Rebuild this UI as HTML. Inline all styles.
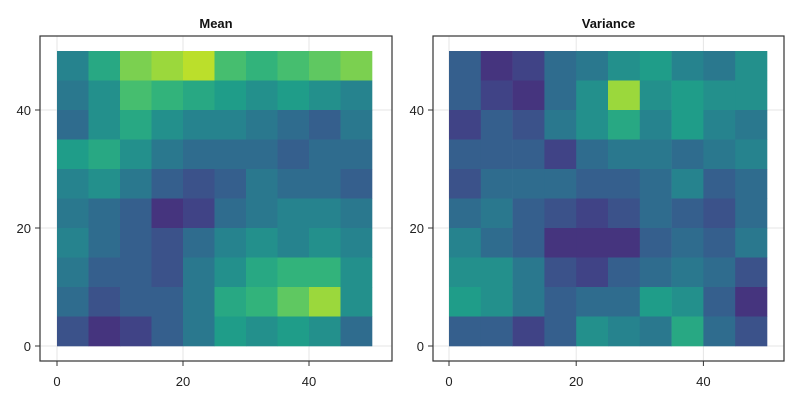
<!DOCTYPE html>
<html><head><meta charset="utf-8"><style>
html,body{margin:0;padding:0;background:#fff}
text{font-family:"Liberation Sans",sans-serif}
</style></head><body>
<svg id="chart" width="800" height="400" xmlns="http://www.w3.org/2000/svg"></svg>
<script>
// 10x10 coarse grid, rows from top (y 45-50) to bottom (y 0-5), values normalized 0..1
const meanValues = [
[0.45,0.6,0.8,0.85,0.9,0.7,0.65,0.7,0.75,0.8],
[0.4,0.5,0.7,0.65,0.6,0.55,0.5,0.55,0.5,0.45],
[0.35,0.5,0.6,0.5,0.45,0.45,0.4,0.35,0.3,0.4],
[0.55,0.6,0.5,0.4,0.35,0.35,0.35,0.3,0.35,0.35],
[0.45,0.5,0.4,0.3,0.25,0.3,0.4,0.35,0.35,0.3],
[0.4,0.35,0.3,0.15,0.2,0.35,0.4,0.45,0.45,0.4],
[0.45,0.35,0.3,0.25,0.35,0.45,0.5,0.45,0.5,0.45],
[0.4,0.3,0.3,0.25,0.4,0.5,0.6,0.65,0.65,0.5],
[0.35,0.25,0.3,0.3,0.4,0.6,0.65,0.75,0.85,0.5],
[0.25,0.15,0.2,0.3,0.4,0.55,0.5,0.55,0.5,0.35]];
const varianceValues = [
[0.3,0.15,0.2,0.35,0.4,0.5,0.55,0.45,0.4,0.5],
[0.3,0.2,0.15,0.35,0.5,0.85,0.5,0.55,0.5,0.5],
[0.2,0.3,0.25,0.4,0.5,0.6,0.45,0.55,0.45,0.4],
[0.3,0.3,0.3,0.2,0.35,0.4,0.4,0.35,0.4,0.45],
[0.25,0.35,0.35,0.35,0.3,0.3,0.35,0.45,0.3,0.35],
[0.35,0.4,0.3,0.25,0.2,0.25,0.35,0.3,0.25,0.35],
[0.45,0.35,0.3,0.15,0.15,0.15,0.3,0.35,0.3,0.4],
[0.5,0.5,0.4,0.25,0.2,0.3,0.35,0.4,0.35,0.25],
[0.55,0.5,0.4,0.3,0.35,0.35,0.55,0.5,0.3,0.15],
[0.3,0.3,0.2,0.3,0.5,0.45,0.4,0.6,0.35,0.25]];
const tickLabels = [0,20,40];
const titles = ["Mean","Variance"];
const cellSize = 5, gridMax = 50;

const NS="http://www.w3.org/2000/svg";
const svg=document.getElementById('chart');
const vir=[[68,1,84],[72,40,120],[62,74,137],[49,104,142],[38,130,142],[31,158,137],[53,183,121],[109,205,89],[180,222,44],[253,231,37]];
function viridis(t){t=Math.max(0,Math.min(1,t))*9;const i=Math.min(8,Math.floor(t)),f=t-i;
 const c=vir[i].map((v,k)=>Math.round(v+(vir[i+1][k]-v)*f));return `rgb(${c})`;}
function el(tag,attrs){const e=document.createElementNS(NS,tag);for(const k in attrs)e.setAttribute(k,attrs[k]);svg.appendChild(e);return e;}

const panels=[{vals:meanValues,x0:57,sx:6.3,box:[40,36,392,361],name:'mean'},
 {vals:varianceValues,x0:449,sx:6.36,box:[433,36,784,361],name:'variance'}];
const y0=346, sy=5.9;
panels.forEach((p,pi)=>{
 const X=d=>p.x0+p.sx*d, Y=d=>y0-sy*d;
 const [bx1,by1,bx2,by2]=p.box;
 tickLabels.forEach(t=>{
  const g1=el('line',{x1:X(t),x2:X(t),y1:by1,y2:by2,stroke:'#e6e6e6','stroke-width':1});
  
  
  const g2=el('line',{x1:bx1,x2:bx2,y1:Y(t),y2:Y(t),stroke:'#e6e6e6','stroke-width':1});
  
  
 });
 const rows=p.vals.length;
 p.vals.forEach((row,r)=>row.forEach((v,c)=>{
  const xa=c*cellSize, ya=(rows-1-r)*cellSize;
  const rc=el('rect',{x:X(xa),y:Y(ya+cellSize),width:X(xa+cellSize)-X(xa)+0.3,height:Y(ya)-Y(ya+cellSize)+0.3,fill:viridis(v)});
  
  
 }));
 const fr=el('rect',{x:bx1,y:by1,width:bx2-bx1,height:by2-by1,fill:'none',stroke:'#333','stroke-width':1.2});
 
 
 tickLabels.forEach(t=>{
  el('line',{x1:X(t),x2:X(t),y1:by2,y2:by2+5,stroke:'#333'});
  const tx=el('text',{x:X(t),y:by2+25,'text-anchor':'middle','font-size':13,fill:'#222'});
  tx.textContent=t;
  
  
  el('line',{x1:bx1-5,x2:bx1,y1:Y(t),y2:Y(t),stroke:'#333'});
  const ty=el('text',{x:bx1-9,y:Y(t)+5,'text-anchor':'end','font-size':13,fill:'#222'});
  ty.textContent=t;
  
  
 });
 const tt=el('text',{x:(bx1+bx2)/2,y:28,'text-anchor':'middle','font-size':13,'font-weight':'bold',fill:'#111'});
 tt.textContent=titles[pi];
 
 
});
</script>
</body></html>
